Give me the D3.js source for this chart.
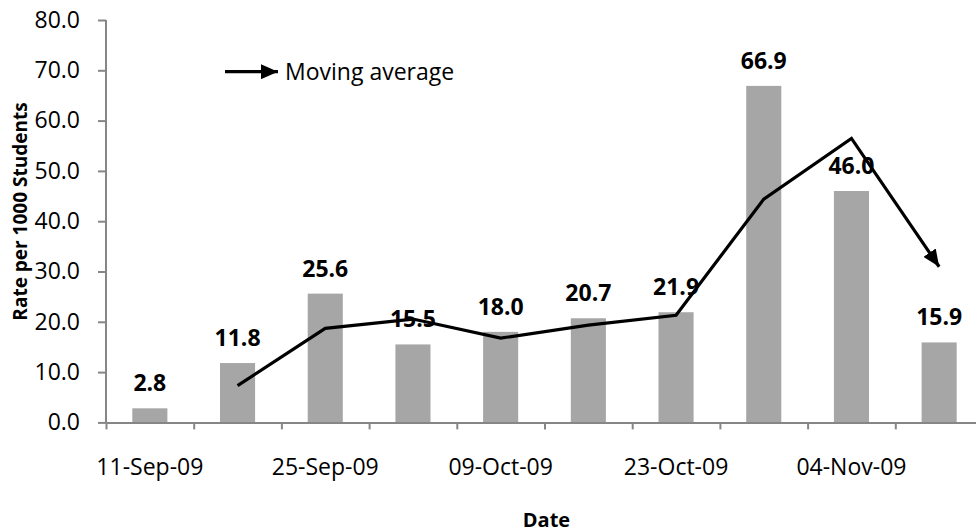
<!DOCTYPE html>
<html>
<head>
<meta charset="utf-8">
<script src="https://cdn.jsdelivr.net/npm/d3@7"></script>
<style>
  html, body { margin: 0; padding: 0; background: #fff; }
  svg { display: block; }
  text { font-family: "Open Sans", "Liberation Sans", sans-serif; fill: #000; }
</style>
</head>
<body>
<svg id="chart" width="976" height="532"></svg>
<script>
// ---- data ----
const xTickLabels = ["11-Sep-09", "", "25-Sep-09", "", "09-Oct-09", "", "23-Oct-09", "", "04-Nov-09", ""];
const rates = [2.8, 11.8, 25.6, 15.5, 18.0, 20.7, 21.9, 66.9, 46.0, 15.9];
const movingAvg = [null, 7.3, 18.7, 20.55, 16.75, 19.35, 21.3, 44.4, 56.45, 30.95];
const yTicks = [0, 10, 20, 30, 40, 50, 60, 70, 80];
const legendLabel = "Moving average";
const xTitle = "Date";
const yTitle = "Rate per 1000 Students";

// ---- layout ----
const svg = d3.select("#chart");
const plot = { left: 106, right: 983, top: 20, bottom: 422.4 };
const idx = d3.range(rates.length);

const x = d3.scaleBand().domain(idx).range([plot.left, plot.right]).paddingInner(0).paddingOuter(0);
const xEdge = d3.scaleLinear().domain([0, rates.length]).range([plot.left, plot.right]);
const y = d3.scaleLinear().domain([0, 80]).range([plot.bottom, plot.top]);
const barW = x.bandwidth() / 2.5;
const axisColor = "#868686";

// defs: arrow marker
const defs = svg.append("defs");
defs.append("marker")
  .attr("id", "arrow")
  .attr("viewBox", "0 0 17 15")
  .attr("refX", 17).attr("refY", 7.5)
  .attr("markerWidth", 17).attr("markerHeight", 15)
  .attr("markerUnits", "userSpaceOnUse")
  .attr("orient", "auto")
  .append("path").attr("d", "M0,0 L17,7.5 L0,15 Z").attr("fill", "#000");

// bars
svg.append("g").selectAll("rect").data(idx).join("rect")
  .attr("x", i => x(i) + (x.bandwidth() - barW) / 2)
  .attr("y", i => y(rates[i]))
  .attr("width", barW)
  .attr("height", i => y(0) - y(rates[i]))
  .attr("fill", "#A6A6A6");

// y axis
const yAxis = svg.append("g")
  .attr("transform", `translate(${plot.left},0)`)
  .call(d3.axisLeft(y).tickValues(yTicks).tickFormat(d3.format(".1f")).tickSize(8).tickPadding(18));
yAxis.select(".domain").attr("stroke", axisColor).attr("stroke-width", 2).attr("d", `M0,${plot.top}V${plot.bottom}`);
yAxis.selectAll(".tick line").attr("stroke", axisColor).attr("stroke-width", 2);
yAxis.selectAll(".tick text").attr("font-size", 23).attr("font-family", "'Open Sans', sans-serif").attr("fill", "#000");

// x axis: boundary ticks
const xAxis = svg.append("g")
  .attr("transform", `translate(0,${plot.bottom})`)
  .call(d3.axisBottom(xEdge).tickValues(d3.range(rates.length + 1)).tickFormat("").tickSize(7).tickSizeOuter(0));
xAxis.select(".domain").attr("stroke", axisColor).attr("stroke-width", 2);
xAxis.selectAll(".tick line").attr("stroke", axisColor).attr("stroke-width", 2);

// x axis: category labels
const xLab = svg.append("g")
  .attr("transform", `translate(0,${plot.bottom})`)
  .call(d3.axisBottom(x).tickFormat(i => xTickLabels[i]).tickSize(0).tickPadding(36));
xLab.select(".domain").remove();
xLab.selectAll(".tick text").attr("font-size", 23).attr("font-family", "'Open Sans', sans-serif").attr("fill", "#000");

// data labels
svg.append("g").selectAll("text").data(idx).join("text")
  .attr("x", i => x(i) + x.bandwidth() / 2)
  .attr("y", i => y(rates[i]) - 17)
  .attr("text-anchor", "middle")
  .attr("font-size", 23)
  .attr("font-weight", "bold")
  .text(i => rates[i].toFixed(1));

// moving average line
const maIdx = idx.filter(i => movingAvg[i] !== null);
svg.append("path")
  .datum(maIdx)
  .attr("fill", "none")
  .attr("stroke", "#000")
  .attr("stroke-width", 3.2)
  .attr("stroke-linejoin", "miter")
  .attr("marker-end", "url(#arrow)")
  .attr("d", d3.line().x(i => x(i) + x.bandwidth() / 2).y(i => y(movingAvg[i])));

// legend
svg.append("line")
  .attr("x1", 225).attr("x2", 278).attr("y1", 71.7).attr("y2", 71.7)
  .attr("stroke", "#000").attr("stroke-width", 3.2)
  .attr("marker-end", "url(#arrow)");
svg.append("text")
  .attr("x", 285).attr("y", 80)
  .attr("font-size", 23)
  .text(legendLabel);

// axis titles
svg.append("text")
  .attr("x", (plot.left + plot.right) / 2 + 2).attr("y", 527)
  .attr("text-anchor", "middle")
  .attr("font-size", 20).attr("font-weight", "bold")
  .text(xTitle);
svg.append("text")
  .attr("transform", `translate(27,211.5) rotate(-90)`)
  .attr("text-anchor", "middle")
  .attr("font-size", 19).attr("font-weight", "bold")
  .text(yTitle);
</script>
</body>
</html>
